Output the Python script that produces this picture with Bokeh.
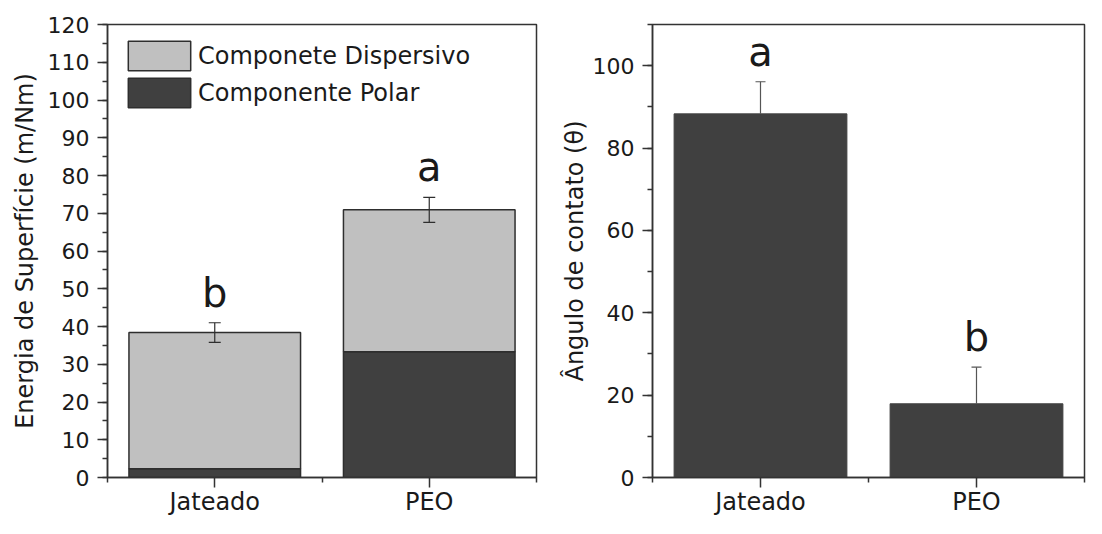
from bokeh.plotting import figure
from bokeh.layouts import row
from bokeh.models import (ColumnDataSource, FixedTicker, SingleIntervalTicker, Range1d,
                          Whisker, TeeHead, Legend, LegendItem)
from bokeh.core.properties import value
from bokeh.embed import file_html
from bokeh.resources import INLINE

# ---------------- data ----------------
categories = ["Jateado", "PEO"]

# left panel: surface energy (m/Nm)
polar = [2.3, 33.3]
dispersivo = [36.1, 37.6]
energia_err = [2.6, 3.3]
energia_letters = ["b", "a"]

# right panel: contact angle
angulo = [88.3, 17.9]
angulo_err = [7.8, 8.9]
angulo_letters = ["a", "b"]

# ---------------- style ----------------
FONT = "DejaVu Sans"
LIGHT = "#c0c0c0"
DARK = "#404040"
EDGE = "#2e2e2e"
AX = "#333333"
TXT = "#1a1a1a"

xs = [i + 1 for i in range(len(categories))]
x_minor = [i + 0.5 for i in range(len(categories) + 1)]
overrides = {x: c for x, c in zip(xs, categories)}


def style(p, y_label, interval):
    p.xaxis.ticker = FixedTicker(ticks=xs, minor_ticks=x_minor)
    p.xaxis.major_label_overrides = overrides
    p.yaxis.ticker = SingleIntervalTicker(interval=interval, num_minor_ticks=2)
    p.xgrid.visible = False
    p.ygrid.visible = False
    for ax in (p.xaxis[0], p.yaxis[0]):
        ax.axis_line_color = AX
        ax.axis_line_width = 1.5
        ax.major_tick_line_color = AX
        ax.major_tick_line_width = 1.5
        ax.minor_tick_line_color = AX
        ax.minor_tick_line_width = 1.5
        ax.major_tick_in = 0
        ax.major_tick_out = 10
        ax.minor_tick_in = 0
        ax.minor_tick_out = 5
        ax.major_label_text_font = FONT
        ax.major_label_text_color = TXT
        ax.axis_label_text_font = FONT
        ax.axis_label_text_font_style = "normal"
        ax.axis_label_text_color = TXT
    p.xaxis.major_label_text_font_size = "24px"
    p.xaxis.major_label_standoff = 0
    p.yaxis.major_label_text_font_size = "22px"
    p.yaxis.major_label_standoff = 8
    p.yaxis.axis_label = y_label
    p.yaxis.axis_label_text_font_size = "24px"
    p.outline_line_color = AX
    p.outline_line_width = 1.5
    p.outline_line_alpha = 1
    p.background_fill_color = "white"
    p.border_fill_color = "white"


# ---------------- left panel ----------------
total = [a + b for a, b in zip(polar, dispersivo)]
src1 = ColumnDataSource(dict(
    x=xs, polar=polar, disp=dispersivo, total=total,
    lo=[t - e for t, e in zip(total, energia_err)],
    hi=[t + e for t, e in zip(total, energia_err)],
    letter=energia_letters,
))

p1 = figure(width=545, height=518, x_range=Range1d(0.5, 2.5), y_range=Range1d(0, 120),
            output_backend="svg", toolbar_location=None,
            min_border_left=107, min_border_right=9, min_border_top=22, min_border_bottom=36)

r_polar, r_disp = p1.vbar_stack(["polar", "disp"], x="x", width=0.8, source=src1,
                                fill_color=[DARK, LIGHT], line_color=EDGE, line_width=1.5)

w1 = Whisker(source=src1, base="x", lower="lo", upper="hi", line_color=EDGE, line_width=1.2,
             upper_head=TeeHead(size=12, line_color=EDGE, line_width=1.2),
             lower_head=TeeHead(size=12, line_color=EDGE, line_width=1.2),
             level="overlay")
p1.add_layout(w1)

p1.text(x="x", y="hi", text="letter", source=src1, text_align="center",
        text_baseline="alphabetic", y_offset=-30, text_font=value(FONT),
        text_font_size="40px", text_color=TXT)

legend = Legend(items=[LegendItem(label="Componete Dispersivo", renderers=[r_disp]),
                       LegendItem(label="Componente Polar", renderers=[r_polar])],
                location="top_left", margin=6, padding=7, spacing=-4,
                glyph_width=78, glyph_height=37, label_standoff=0,
                label_text_font=FONT, label_text_font_size="24px", label_text_color=TXT,
                background_fill_alpha=0, border_line_alpha=0)
p1.add_layout(legend)

style(p1, "Energia de Superfície (m/Nm)", 10)
p1.yaxis.axis_label_standoff = 6

# ---------------- right panel ----------------
src2 = ColumnDataSource(dict(
    x=xs, top=angulo,
    hi=[t + e for t, e in zip(angulo, angulo_err)],
    letter=angulo_letters,
))

p2 = figure(width=541, height=518, x_range=Range1d(0.5, 2.5), y_range=Range1d(0, 110),
            output_backend="svg", toolbar_location=None,
            min_border_left=107, min_border_right=2, min_border_top=24, min_border_bottom=36)

p2.vbar(x="x", top="top", width=0.8, source=src2, fill_color=DARK, line_color=DARK, line_width=1)

w2 = Whisker(source=src2, base="x", lower="top", upper="hi", line_color="#555555", line_width=1.2,
             upper_head=TeeHead(size=10, line_color="#555555", line_width=1.2),
             lower_head=None, level="overlay")
p2.add_layout(w2)

p2.text(x="x", y="hi", text="letter", source=src2, text_align="center",
        text_baseline="alphabetic", y_offset=-30, text_font=value(FONT),
        text_font_size="40px", text_color=TXT)

style(p2, "Ângulo de contato (θ)", 20)
p2.yaxis.axis_label_standoff = 1

layout = row(p1, p2)
open("out.html", "w").write(file_html(layout, INLINE))
